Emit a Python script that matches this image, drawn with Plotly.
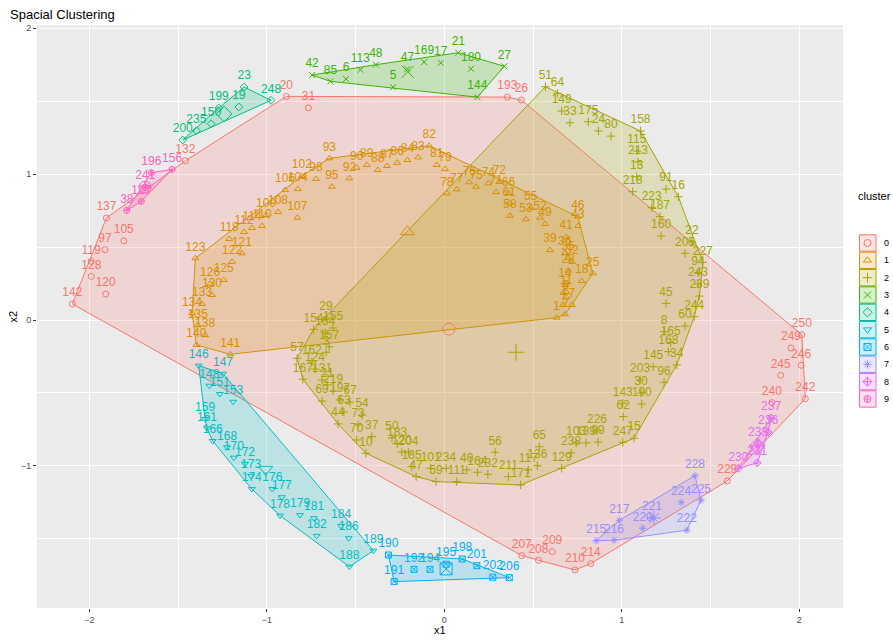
import plotly.graph_objects as go

# ---- observations per cluster: row id, x1, x2 ----
c0_id = [20, 31, 193, 26, 132, 137, 105, 97, 119, 128, 120, 142, 250, 249, 246, 245, 242, 240, 229, 214, 210, 209, 208, 207]
c0_x = [-0.890, -0.766, 0.355, 0.434, -1.459, -1.904, -1.806, -1.912, -1.990, -1.989, -1.908, -2.096, 2.014, 1.953, 2.010, 1.895, 2.034, 1.845, 1.594, 0.825, 0.736, 0.608, 0.530, 0.436]
c0_y = [1.532, 1.454, 1.527, 1.507, 1.091, 0.699, 0.543, 0.482, 0.402, 0.299, 0.178, 0.110, -0.101, -0.192, -0.310, -0.379, -0.539, -0.566, -1.103, -1.669, -1.712, -1.587, -1.646, -1.614]

c1_id = [82, 83, 84, 86, 87, 88, 89, 90, 93, 92, 95, 98, 102, 104, 106, 100, 108, 107, 110, 112, 114, 118, 121, 122, 123, 125, 126, 130, 133, 134, 135, 138, 140, 141,
         79, 81, 78, 77, 76, 75, 74, 72, 71, 66, 61, 58, 55, 53, 52, 49, 46, 43, 41, 39, 36, 35, 32, 28, 25, 18, 14, 11, 9, 7, 4, 2, 1]
c1_x = [-0.085, -0.148, -0.208, -0.266, -0.323, -0.375, -0.437, -0.494, -0.648, -0.535, -0.634, -0.723, -0.803, -0.826, -0.897, -1.004, -0.937, -0.828, -1.027, -1.128, -1.083, -1.212, -1.141, -1.196, -1.403, -1.243, -1.320, -1.309, -1.365, -1.421, -1.389, -1.348, -1.397, -1.206,
        0.004, -0.043, 0.014, 0.070, 0.141, 0.179, 0.248, 0.310, 0.291, 0.361, 0.365, 0.370, 0.487, 0.460, 0.539, 0.567, 0.752, 0.753, 0.686, 0.595, 0.680, 0.697, 0.719, 0.697, 0.836, 0.774, 0.680, 0.686, 0.686, 0.718, 0.669, 0.680, 0.633]
c1_y = [1.194, 1.114, 1.096, 1.077, 1.055, 1.027, 1.062, 1.043, 1.108, 0.971, 0.913, 0.966, 0.986, 0.897, 0.890, 0.719, 0.740, 0.701, 0.644, 0.603, 0.630, 0.555, 0.457, 0.399, 0.423, 0.274, 0.247, 0.171, 0.110, 0.046, -0.036, -0.103, -0.171, -0.235,
        1.034, 1.062, 0.868, 0.895, 0.943, 0.913, 0.936, 0.947, 0.877, 0.868, 0.799, 0.714, 0.769, 0.690, 0.701, 0.658, 0.708, 0.644, 0.568, 0.479, 0.459, 0.425, 0.397, 0.338, 0.320, 0.267, 0.240, 0.192, 0.158, 0.103, 0.103, 0.039, 0.016]

c2_id = [51, 64, 149, 33, 175, 24, 80, 158, 115, 213, 13, 218, 91, 16, 223, 187, 160, 22, 205, 227, 94, 243, 239, 45, 244, 60, 8, 165, 168, 145, 34, 96, 203, 30, 190, 143, 62,
         15, 247, 226, 103, 139, 99, 238, 65, 136, 117, 129, 56, 211, 171, 232, 164, 40, 234, 111, 59, 47, 101, 185, 204, 120, 183, 50, 37, 70, 10, 54, 73, 44,
         63, 67, 197, 69, 219, 21, 131, 167, 124, 162, 57, 3, 157, 154, 164, 155, 29]
c2_x = [0.569, 0.637, 0.661, 0.708, 0.811, 0.868, 0.939, 1.105, 1.084, 1.091, 1.084, 1.061, 1.249, 1.318, 1.168, 1.215, 1.221, 1.395, 1.356, 1.456, 1.429, 1.429, 1.437, 1.249, 1.408, 1.356, 1.238, 1.275, 1.262, 1.177, 1.309, 1.238, 1.103, 1.108, 1.112, 1.005, 1.008,
        1.069, 1.005, 0.860, 0.742, 0.798, 0.866, 0.714, 0.535, 0.524, 0.473, 0.661, 0.286, 0.361, 0.430, 0.245, 0.186, 0.126, 0.010, 0.070, -0.047, -0.159, -0.077, -0.184, -0.203, -0.240, -0.266, -0.295, -0.409, -0.494, -0.442, -0.464, -0.486, -0.599,
        -0.566, -0.532, -0.588, -0.689, -0.627, -0.660, -0.689, -0.797, -0.729, -0.746, -0.830, -0.666, -0.649, -0.737, -0.672, -0.627, -0.667]
c2_y = [1.598, 1.553, 1.432, 1.351, 1.358, 1.295, 1.260, 1.295, 1.158, 1.084, 0.982, 0.879, 0.897, 0.845, 0.769, 0.708, 0.575, 0.534, 0.457, 0.395, 0.324, 0.247, 0.164, 0.114, 0.023, -0.041, -0.080, -0.155, -0.217, -0.320, -0.308, -0.427, -0.411, -0.500, -0.575, -0.571, -0.662,
        -0.810, -0.838, -0.760, -0.842, -0.842, -0.836, -0.911, -0.868, -0.998, -1.027, -1.016, -0.906, -1.073, -1.130, -1.057, -1.043, -1.027, -1.016, -1.107, -1.107, -1.073, -1.016, -1.005, -0.906, -0.904, -0.849, -0.808, -0.799, -0.822, -0.913, -0.651, -0.719, -0.712,
        -0.630, -0.562, -0.548, -0.555, -0.486, -0.445, -0.411, -0.406, -0.336, -0.288, -0.262, -0.221, -0.183, -0.064, -0.089, -0.055, 0.014]

c3_id = [42, 85, 6, 113, 48, 47, 5, 169, 17, 21, 180, 27, 144]
c3_x = [-0.745, -0.642, -0.554, -0.473, -0.386, -0.208, -0.289, -0.114, -0.020, 0.079, 0.150, 0.338, 0.186]
c3_y = [1.678, 1.635, 1.651, 1.714, 1.749, 1.719, 1.596, 1.767, 1.762, 1.831, 1.721, 1.738, 1.527]

c4_id = [200, 235, 150, 199, 19, 23, 248]
c4_x = [-1.474, -1.397, -1.314, -1.271, -1.158, -1.128, -0.976]
c4_y = [1.233, 1.297, 1.345, 1.452, 1.459, 1.596, 1.505]

c5_id = [146, 147, 148, 151, 153, 159, 161, 166, 168, 170, 172, 173, 174, 176, 177, 178, 179, 181, 182, 184, 186, 188, 189]
c5_x = [-1.384, -1.247, -1.324, -1.265, -1.190, -1.348, -1.337, -1.305, -1.224, -1.186, -1.123, -1.089, -1.085, -0.969, -0.916, -0.926, -0.813, -0.734, -0.719, -0.582, -0.539, -0.535, -0.400]
c5_y = [-0.313, -0.368, -0.450, -0.507, -0.560, -0.678, -0.742, -0.829, -0.872, -0.943, -0.986, -1.068, -1.158, -1.158, -1.214, -1.340, -1.336, -1.358, -1.479, -1.411, -1.495, -1.690, -1.580]

c6_id = [190, 191, 192, 194, 195, 198, 201, 202, 206]
c6_x = [-0.315, -0.283, -0.171, -0.081, 0.010, 0.101, 0.183, 0.273, 0.366]
c6_y = [-1.610, -1.792, -1.708, -1.708, -1.673, -1.637, -1.683, -1.762, -1.765]

c7_id = [215, 216, 217, 220, 221, 222, 224, 225, 228]
c7_x = [0.855, 0.956, 0.986, 1.118, 1.170, 1.366, 1.334, 1.446, 1.412]
c7_y = [-1.512, -1.509, -1.372, -1.427, -1.356, -1.440, -1.249, -1.235, -1.066]

c8_id = [237, 236, 233, 231, 230]
c8_x = [1.841, 1.824, 1.767, 1.763, 1.656]
c8_y = [-0.671, -0.767, -0.849, -0.979, -1.016]

c9_id = [196, 156, 241, 127, 38]
c9_x = [-1.651, -1.534, -1.685, -1.707, -1.789]
c9_y = [1.009, 1.032, 0.911, 0.813, 0.751]

# cluster centres
centre_x = [0.026, -0.208, 0.404, -0.206, -1.241, -1.006, 0.010, 1.181, 1.763, -1.686]
centre_y = [-0.062, 0.605, -0.221, 1.701, 1.411, -1.023, -1.705, -1.356, -0.861, 0.909]

cluster_names = ["0", "1", "2", "3", "4", "5", "6", "7", "8", "9"]
palette = ["#F8766D", "#D89000", "#A3A500", "#39B600", "#00BF7D",
           "#00BFC4", "#00B0F6", "#9590FF", "#E76BF3", "#FF62BC"]
symbols = ["circle-open", "triangle-up-open", "cross-thin-open", "x-thin-open", "diamond-open",
           "triangle-down-open", "square-x-open", "asterisk-open", "diamond-cross-open", "circle-cross-open"]

ids = [c0_id, c1_id, c2_id, c3_id, c4_id, c5_id, c6_id, c7_id, c8_id, c9_id]
xs = [c0_x, c1_x, c2_x, c3_x, c4_x, c5_x, c6_x, c7_x, c8_x, c9_x]
ys = [c0_y, c1_y, c2_y, c3_y, c4_y, c5_y, c6_y, c7_y, c8_y, c9_y]

FONT = "Liberation Sans, Arial, Helvetica, sans-serif"
W, H = 893, 642
PANEL = dict(l=37, r=843, t=25, b=608)


def rgba(hex_color, a):
    h = hex_color.lstrip("#")
    r, g, b = int(h[0:2], 16), int(h[2:4], 16), int(h[4:6], 16)
    return f"rgba({r},{g},{b},{a})"


def convex_hull(px, py):
    pts = sorted(set(zip(px, py)))
    if len(pts) < 3:
        return pts

    def cross(o, a, b):
        return (a[0] - o[0]) * (b[1] - o[1]) - (a[1] - o[1]) * (b[0] - o[0])

    lower, upper = [], []
    for p in pts:
        while len(lower) >= 2 and cross(lower[-2], lower[-1], p) <= 0:
            lower.pop()
        lower.append(p)
    for p in reversed(pts):
        while len(upper) >= 2 and cross(upper[-2], upper[-1], p) <= 0:
            upper.pop()
        upper.append(p)
    hull = lower[:-1] + upper[:-1]
    return hull + [hull[0]]


fig = go.Figure()

# hull polygons
for k in range(10):
    h = convex_hull(xs[k], ys[k])
    fig.add_trace(go.Scatter(
        x=[p[0] for p in h], y=[p[1] for p in h], mode="lines",
        fill="toself", fillcolor=rgba(palette[k], 0.2),
        line=dict(color=palette[k], width=1), hoverinfo="skip", showlegend=False))

# observations with their row labels
for k in range(10):
    fig.add_trace(go.Scatter(
        x=xs[k], y=ys[k], mode="markers+text",
        text=[str(i) for i in ids[k]], textposition="top center",
        textfont=dict(family=FONT, size=12, color=palette[k]),
        marker=dict(symbol=symbols[k], size=6, color=palette[k], line=dict(width=1, color=palette[k])),
        showlegend=False, name=cluster_names[k]))

# cluster centres
for k in range(10):
    fig.add_trace(go.Scatter(
        x=[centre_x[k]], y=[centre_y[k]], mode="markers",
        marker=dict(symbol=symbols[k], size=12, color=palette[k], line=dict(width=1, color=palette[k])),
        showlegend=False, hoverinfo="skip"))

# legend keys drawn on a pixel-space helper axis
leg_y0, leg_step = 243, 17.33
leg_y = [leg_y0 + leg_step * k for k in range(10)]
fig.add_trace(go.Scatter(
    x=[867.5] * 10, y=leg_y, mode="markers", xaxis="x2", yaxis="y2",
    marker=dict(symbol=symbols, size=7, color=palette, line=dict(width=1, color=palette)),
    showlegend=False, hoverinfo="skip"))

shapes = [dict(type="rect", xref="x domain", yref="y domain", x0=0, x1=1, y0=0, y1=1,
               fillcolor="#EBEBEB", line=dict(width=0), layer="below")]
annotations = []
for k in range(10):
    shapes.append(dict(type="rect", xref="x2", yref="y2", x0=859.5, x1=876, y0=leg_y[k] - 8.2, y1=leg_y[k] + 8.2,
                       fillcolor=rgba(palette[k], 0.2), line=dict(color=palette[k], width=1), layer="below"))
    annotations.append(dict(xref="x2", yref="y2", x=882, y=leg_y[k], text=cluster_names[k], showarrow=False,
                            xanchor="left", yanchor="middle", font=dict(family=FONT, size=9, color="#000000")))
annotations.append(dict(xref="x2", yref="y2", x=856, y=196, text="cluster", showarrow=False,
                        xanchor="left", yanchor="middle", font=dict(family=FONT, size=11, color="#000000")))
annotations.append(dict(xref="paper", yref="paper", x=8 / W, y=1 - 14 / H, text="Spacial Clustering", showarrow=False,
                        xanchor="left", yanchor="middle", font=dict(family=FONT, size=13, color="#000000")))
annotations.append(dict(xref="paper", yref="paper", x=((PANEL["l"] + PANEL["r"]) / 2) / W, y=1 - 630 / H, text="x1",
                        showarrow=False, xanchor="center", yanchor="middle", font=dict(family=FONT, size=11, color="#000000")))
annotations.append(dict(xref="paper", yref="paper", x=12 / W, y=1 - ((PANEL["t"] + PANEL["b"]) / 2) / H, text="x2",
                        showarrow=False, textangle=-90, xanchor="center", yanchor="middle",
                        font=dict(family=FONT, size=11, color="#000000")))

axis_common = dict(showline=False, zeroline=False, ticks="outside", ticklen=3, tickwidth=1, tickcolor="#333333",
                   tickfont=dict(family=FONT, size=9, color="#4D4D4D"), gridcolor="#FFFFFF", gridwidth=1.1,
                   showgrid=True, dtick=1, tick0=0, automargin=False,
                   minor=dict(dtick=0.5, tick0=0, showgrid=True, gridcolor="#FFFFFF", gridwidth=0.5, ticks=""))

fig.update_layout(
    width=W, height=H, margin=dict(l=0, r=0, t=0, b=0),
    paper_bgcolor="white", plot_bgcolor="rgba(0,0,0,0)",
    xaxis=dict(domain=[PANEL["l"] / W, PANEL["r"] / W], range=[-2.295, 2.246], **axis_common),
    yaxis=dict(domain=[1 - PANEL["b"] / H, 1 - PANEL["t"] / H], range=[-1.973, 2.021], **axis_common),
    xaxis2=dict(domain=[850 / W, 1], range=[850, W], visible=False, anchor="y2"),
    yaxis2=dict(domain=[0, 1], range=[H, 0], visible=False, anchor="x2"),
    shapes=shapes, annotations=annotations, showlegend=False,
)

fig.write_html("out.html")
